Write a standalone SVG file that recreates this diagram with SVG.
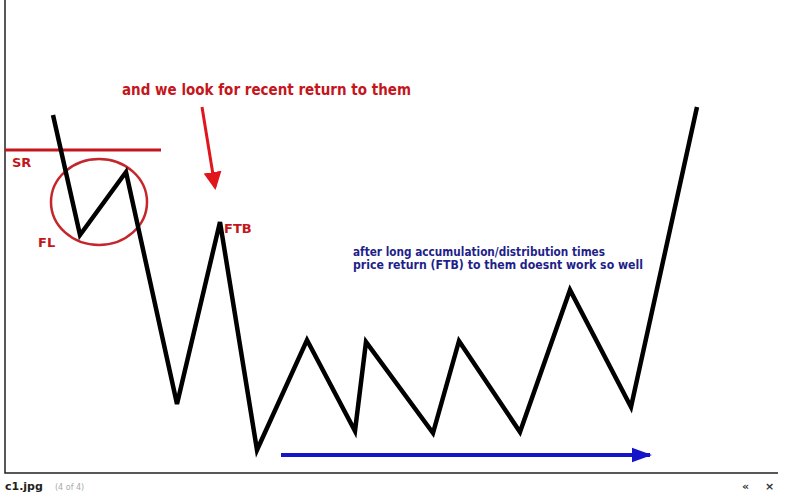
<svg xmlns="http://www.w3.org/2000/svg" width="785" height="495" viewBox="0 0 785 495">
<defs>
<style>
.red{fill:#c4161c;font-family:"DejaVu Sans","Liberation Sans",sans-serif;font-weight:bold}
.blue{fill:#1f1f8a;font-family:"DejaVu Sans","Liberation Sans",sans-serif;font-weight:bold;font-size:12px}
.price{fill:none;stroke:#000;stroke-width:4.5;stroke-linejoin:miter;stroke-linecap:butt}
.foot{font-family:"DejaVu Sans","Liberation Sans",sans-serif}
</style>
<marker id="redHead" markerWidth="6" markerHeight="6" refX="5" refY="3" orient="auto" markerUnits="strokeWidth">
<path d="M0,0 L6,3 L0,6 Z" fill="#e0161c"/>
</marker>
<marker id="blueHead" markerWidth="5" markerHeight="4" refX="4.5" refY="2" orient="auto" markerUnits="strokeWidth">
<path d="M0,0.2 L5,2 L0,3.8 Z" fill="#1414c8"/>
</marker>
</defs>
<rect width="785" height="495" fill="#fff"/>
<g id="frame">
<path d="M5,0 V473 H778" fill="none" stroke="#222" stroke-width="1.5"/>
</g>
<g id="sr">
<line x1="5" y1="150" x2="161" y2="150" stroke="#c4161c" stroke-width="3"/>
<text class="red" x="12" y="167" font-size="13">SR</text>
</g>
<g id="fl-circle">
<ellipse cx="99" cy="202" rx="48" ry="43" fill="none" stroke="#c4262c" stroke-width="2.5"/>
<text class="red" x="38" y="247" font-size="13">FL</text>
</g>
<g id="note-top">
<text class="red" x="122" y="95" font-size="15" textLength="289" lengthAdjust="spacingAndGlyphs">and we look for recent return to them</text>
</g>
<g id="ftb">
<text class="red" x="224" y="233" font-size="13">FTB</text>
</g>
<g id="note-blue">
<text class="blue" x="353" y="256" textLength="252" lengthAdjust="spacingAndGlyphs">after long accumulation/distribution times</text>
<text class="blue" x="353" y="269" textLength="290" lengthAdjust="spacingAndGlyphs">price return (FTB) to them doesnt work so well</text>
</g>
<g id="connectors">
<polyline class="price" points="53,115 80,235 126,172 177,404 220,222 257,450 307,340 355,431 366,342 433,433 459,341 520,432 570,290 631,407 697,107"/>
<line x1="202" y1="107" x2="215" y2="187" stroke="#e0161c" stroke-width="3" marker-end="url(#redHead)"/>
<line x1="281" y1="455" x2="650" y2="455" stroke="#1414c8" stroke-width="4" marker-end="url(#blueHead)"/>
</g>
<g id="footer">
<text class="foot" x="5" y="490" font-weight="bold" font-size="11" fill="#222">c1.jpg</text>
<text class="foot" x="55" y="490" font-size="8" fill="#aaa">(4 of 4)</text>
<text class="foot" x="742" y="490" font-weight="bold" font-size="11" fill="#333">«</text>
<text class="foot" x="765" y="490" font-weight="bold" font-size="11" fill="#333">×</text>
</g>
</svg>
